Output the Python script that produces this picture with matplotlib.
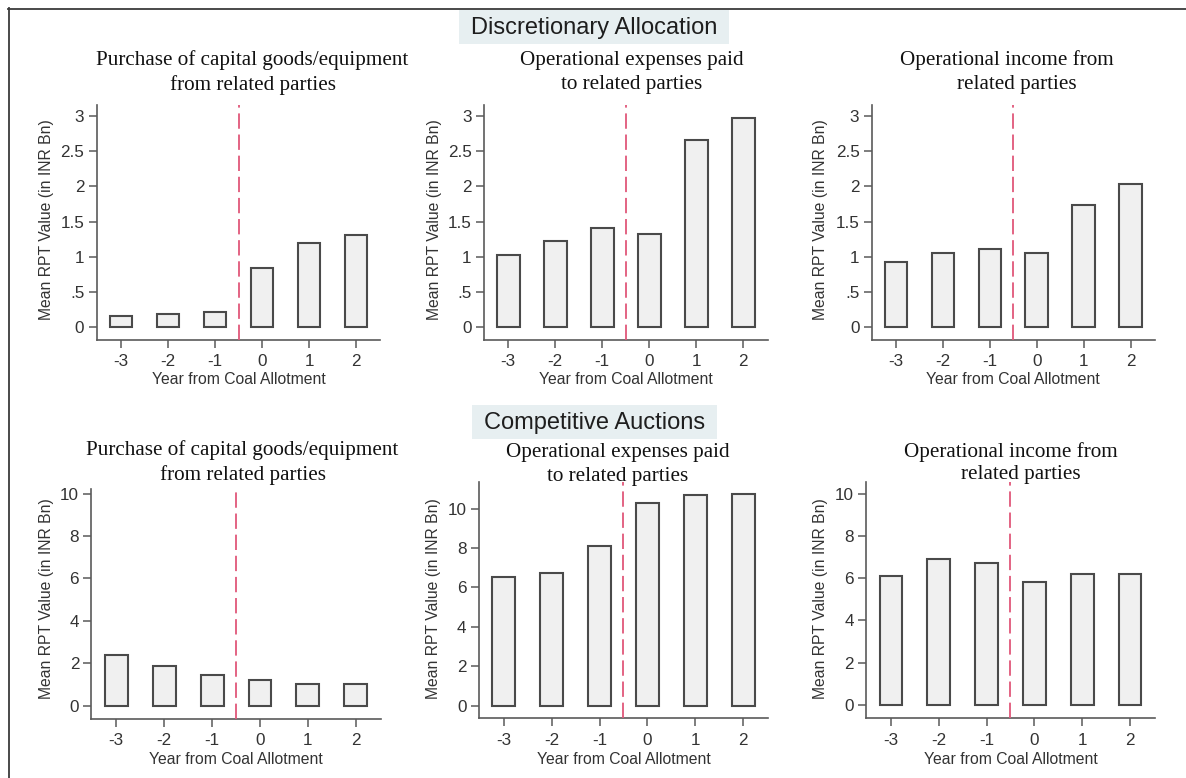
import matplotlib
matplotlib.use("Agg")
import matplotlib.pyplot as plt
from matplotlib.patches import Rectangle
from matplotlib.lines import Line2D

# ---------------- data ----------------
years = [-3, -2, -1, 0, 1, 2]
year_labels = ["-3", "-2", "-1", "0", "1", "2"]

da_capital = [0.16, 0.18, 0.21, 0.845, 1.19, 1.31]
da_opex = [1.03, 1.22, 1.41, 1.32, 2.66, 2.97]
da_income = [0.92, 1.06, 1.115, 1.05, 1.73, 2.03]

ca_capital = [2.38, 1.87, 1.46, 1.21, 1.02, 1.02]
ca_opex = [6.55, 6.75, 8.09, 10.27, 10.70, 10.75]
ca_income = [6.12, 6.90, 6.70, 5.83, 6.20, 6.20]

top_yticks = [0, 0.5, 1, 1.5, 2, 2.5, 3]
top_yticklabels = ["0", ".5", "1", "1.5", "2", "2.5", "3"]
bot_yticks = [0, 2, 4, 6, 8, 10]
bot_yticklabels = ["0", "2", "4", "6", "8", "10"]

section_titles = ["Discretionary Allocation", "Competitive Auctions"]
panel_titles = [
    ["Purchase of capital goods/equipment", "from related parties"],
    ["Operational expenses paid", "to related parties"],
    ["Operational income from", "related parties"],
]
xlabel = "Year from Coal Allotment"
ylabel = "Mean RPT Value (in INR Bn)"

# ---------------- layout (pixels) ----------------
W, H = 1186, 778
fig = plt.figure(figsize=(W / 100, H / 100), dpi=100)
fig.patch.set_facecolor("white")

def fx(px):
    return px / W

def fy(py):
    return 1 - py / H

TXT = "#333333"
AX = "#5a5a5a"
BAR_EDGE = "#4a4a4a"
BAR_FACE = "#f0f0f0"
VLINE = "#e0577a"
HDR = "#e7eff1"
SANS = "Liberation Sans"
SERIF = "Liberation Serif"

# outer border (top and left visible)
fig.add_artist(Line2D([fx(8), fx(W + 5)], [fy(8.5), fy(8.5)], transform=fig.transFigure,
                      color="#3a3a3a", lw=1.3))
fig.add_artist(Line2D([fx(8.5), fx(8.5)], [fy(8), fy(H + 5)], transform=fig.transFigure,
                      color="#3a3a3a", lw=1.3))

# section headers
headers = [
    (section_titles[0], 459, 10, 729, 44),
    (section_titles[1], 472, 405, 717, 439),
]
for text, x0, y0, x1, y1 in headers:
    fig.add_artist(Rectangle((fx(x0), fy(y1)), fx(x1) - fx(x0), fy(y0) - fy(y1),
                             transform=fig.transFigure, facecolor=HDR, edgecolor="none"))
    fig.text(fx((x0 + x1) / 2), fy((y0 + y1) / 2 + 1), text, ha="center", va="center",
             fontsize=17, family=SANS, color="#1e1e1e")

# panels
panels = [
    (da_capital, 121.0, 47.0, 105, 340, (-0.185, 3.16), top_yticks, top_yticklabels, 47, 220, 380,
     [(252, 60, panel_titles[0][0]), (252.5, 85, panel_titles[0][1])]),
    (da_opex, 508.3, 47.0, 105, 340, (-0.185, 3.16), top_yticks, top_yticklabels, 434.5, 220, 380,
     [(631.7, 60, panel_titles[1][0]), (631.7, 85, panel_titles[1][1])]),
    (da_income, 896.0, 46.9, 105, 340, (-0.185, 3.16), top_yticks, top_yticklabels, 820, 220, 380,
     [(1006.7, 60, panel_titles[2][0]), (1016.7, 85, panel_titles[2][1])]),
    (ca_capital, 116.3, 47.9, 489.3, 719, (-0.63, 10.2), bot_yticks, bot_yticklabels, 47, 599, 759,
     [(242.5, 450, panel_titles[0][0]), (243.5, 475, panel_titles[0][1])]),
    (ca_opex, 503.7, 47.9, 481.7, 718.3, (-0.64, 11.37), bot_yticks, bot_yticklabels, 433.5, 599, 759,
     [(618, 453, panel_titles[1][0]), (618, 477, panel_titles[1][1])]),
    (ca_income, 891.0, 47.8, 481.7, 718.3, (-0.63, 10.57), bot_yticks, bot_yticklabels, 820.8, 599, 759,
     [(1010.7, 451.7, panel_titles[2][0]), (1020.8, 475, panel_titles[2][1])]),
]

XL = (-3.52, 2.52)
for (vals, c_m3, sp, top, bot, yl, yt, ytl, ylx, yly, xly, titles) in panels:
    left = c_m3 - (-3 - XL[0]) * sp
    width = (XL[1] - XL[0]) * sp
    ax = fig.add_axes([fx(left), fy(bot), width / W, (bot - top) / H])
    ax.set_facecolor("none")
    ax.bar(years, vals, width=0.48, color=BAR_FACE, edgecolor=BAR_EDGE, linewidth=1.5, zorder=2)
    ax.axvline(-0.5, color=VLINE, lw=1.3, linestyle=(0, (8.5, 3.2)), zorder=3)
    ax.set_xlim(*XL)
    ax.set_ylim(*yl)
    ax.set_xticks(years)
    ax.set_xticklabels(year_labels)
    ax.set_yticks(yt)
    ax.set_yticklabels(ytl)
    for s in ("top", "right"):
        ax.spines[s].set_visible(False)
    for s in ("left", "bottom"):
        ax.spines[s].set_color(AX)
        ax.spines[s].set_linewidth(1.2)
    ax.tick_params(direction="out", length=5.8, width=1.1, color=AX, labelcolor=TXT,
                   labelsize=12.3)
    ax.tick_params(axis="x", pad=4.5)
    ax.tick_params(axis="y", pad=3)
    for lab in ax.get_xticklabels() + ax.get_yticklabels():
        lab.set_family(SANS)
    ax.set_xlabel(xlabel, fontsize=11.3, family=SANS, color=TXT)
    ax.xaxis.set_label_coords(fx(left + width / 2), fy(xly), transform=fig.transFigure)
    ax.xaxis.label.set_va("center")
    ax.set_ylabel(ylabel, fontsize=11.3, family=SANS, color=TXT)
    ax.yaxis.set_label_coords(fx(ylx), fy(yly), transform=fig.transFigure)
    ax.yaxis.label.set_va("center")
    for tx, ty, t in titles:
        fig.text(fx(tx), fy(ty), t, ha="center", va="center", fontsize=15.2, family=SERIF,
                 color="#111111")

fig.savefig("out.png", dpi=100, facecolor="white")
